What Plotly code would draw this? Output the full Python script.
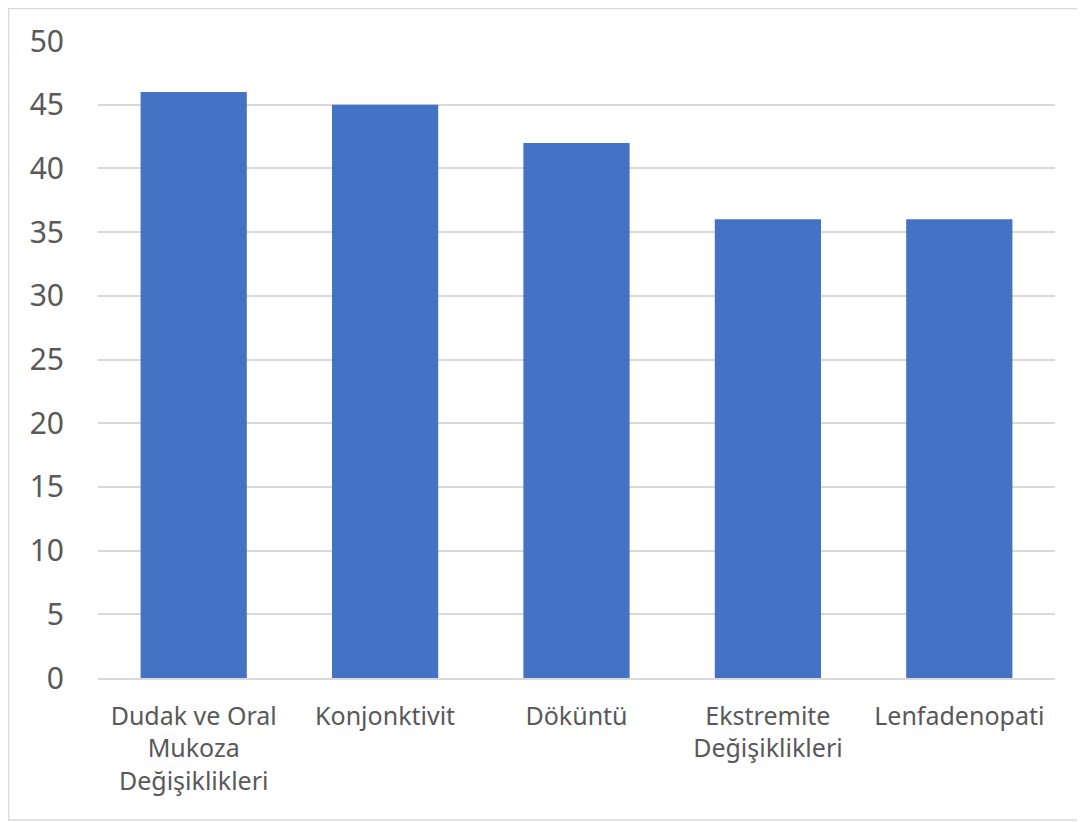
import plotly.graph_objects as go

categories = ["Dudak ve Oral<br>Mukoza<br>Değişiklikleri", "Konjonktivit", "Döküntü",
              "Ekstremite<br>Değişiklikleri", "Lenfadenopati"]
values = [46, 45, 42, 36, 36]
y_ticks = [0, 5, 10, 15, 20, 25, 30, 35, 40, 45, 50]

fig = go.Figure(go.Bar(x=categories, y=values, marker=dict(color="#4472C4", line=dict(width=0)),
                       width=0.555))

fig.update_layout(
    width=1077, height=814,
    margin=dict(l=90, r=30, t=33, b=144),
    paper_bgcolor="white", plot_bgcolor="white",
    font=dict(family="Noto Sans, Open Sans, sans-serif", color="#595959"),
    showlegend=False,
    xaxis=dict(tickfont=dict(size=25, color="#595959"), ticklabelstandoff=15,
               showline=True, linecolor="#D9D9D9", linewidth=1.5, showgrid=False),
    yaxis=dict(range=[0, 50], tickvals=y_ticks, tickfont=dict(size=30, color="#595959"),
               showgrid=True, gridcolor="#D9D9D9", gridwidth=1.5, zeroline=False,
               showline=False, ticklabelstandoff=33),
    shapes=[dict(type="rect", xref="paper", yref="paper", x0=-0.0935, x1=1.024,
                 y0=-0.2229, y1=1.051, line=dict(color="#D9D9D9", width=1.5),
                 fillcolor="rgba(0,0,0,0)", layer="below")],
)

fig.write_html("out.html")
